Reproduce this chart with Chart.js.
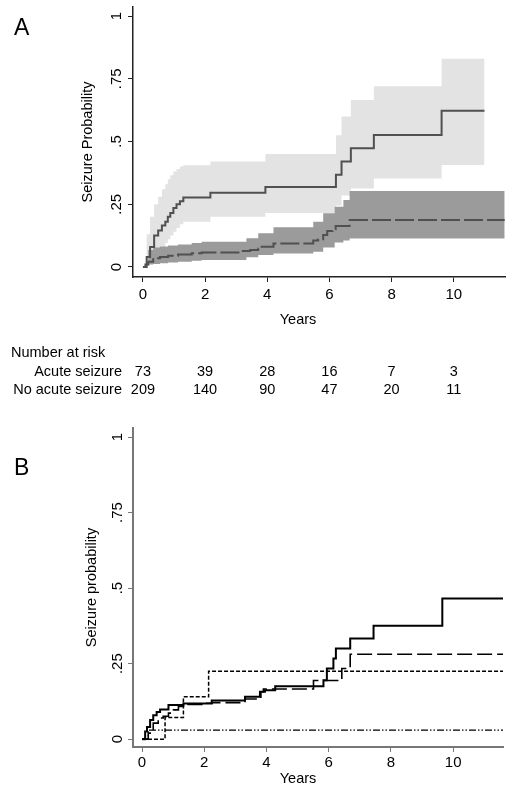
<!DOCTYPE html>
<html>
<head>
<meta charset="utf-8">
<script src="https://cdn.jsdelivr.net/npm/chart.js@4.4.1/dist/chart.umd.min.js"></script>
<style>
  html, body { margin:0; padding:0; background:#fff; }
  body { width:512px; height:792px; position:relative; overflow:hidden; font-family:"Liberation Sans", Arial, sans-serif; color:#000; }
  canvas { position:absolute; left:0; }
  .t { position:absolute; white-space:nowrap; font-size:14.5px; line-height:16px; }
  .panel { position:absolute; font-size:23px; line-height:26px; }
</style>
</head>
<body>
<canvas id="cA" width="512" height="340" style="top:0px"></canvas>
<canvas id="cB" width="512" height="392" style="top:400px"></canvas>
<div class="panel" style="left:14px; top:14px;">A</div>
<div class="panel" style="left:14px; top:454px;">B</div>
<div class="t" style="left:11px; top:344px;">Number at risk</div>
<div class="t" id="rowLab1" style="right:390px; top:363px;">Acute seizure</div>
<div class="t" id="rowLab2" style="right:390px; top:381px;">No acute seizure</div>
<div id="riskNums"></div>
<script>
// ---------- shared axis data ----------
const xTickVals = [0, 2, 4, 6, 8, 10];
const yTickVals = [0, 0.25, 0.5, 0.75, 1];
const yTickLabels = ['0', '.25', '.5', '.75', '1'];

// ---------- Panel A: Kaplan-Meier with confidence bands ----------
const acuteT  = [0, 0.12, 0.23, 0.36, 0.49, 0.61, 0.72, 0.8, 0.88, 0.98, 1.08, 1.19, 1.3, 2.17, 3.94, 6.21, 6.39, 6.69, 7.43, 9.61, 10.99];
const acuteS  = [0, 0.04, 0.08, 0.125, 0.145, 0.165, 0.18, 0.2, 0.215, 0.235, 0.25, 0.262, 0.277, 0.296, 0.319, 0.367, 0.42, 0.473, 0.526, 0.623, 0.623];
const acuteHi = [0, 0.13, 0.2, 0.25, 0.28, 0.31, 0.33, 0.35, 0.365, 0.38, 0.39, 0.40, 0.405, 0.42, 0.45, 0.525, 0.6, 0.665, 0.72, 0.83, 0.83];
const acuteLo = [0, 0.005, 0.02, 0.05, 0.06, 0.08, 0.095, 0.11, 0.125, 0.14, 0.155, 0.17, 0.18, 0.2, 0.215, 0.245, 0.285, 0.313, 0.353, 0.406, 0.406];

const noAcuteT  = [0, 0.08, 0.17, 0.33, 0.55, 0.81, 1.13, 1.57, 1.89, 3.12, 3.45, 3.71, 3.82, 4.2, 5.48, 5.64, 5.8, 5.93, 6.1, 6.2, 6.65, 11.64];
const noAcuteS  = [0, 0.01, 0.021, 0.035, 0.04, 0.045, 0.05, 0.055, 0.058, 0.064, 0.068, 0.074, 0.081, 0.094, 0.105, 0.11, 0.127, 0.143, 0.15, 0.163, 0.187, 0.187];
const noAcuteBandT = [0, 0.17, 0.33, 0.55, 0.81, 1.13, 1.57, 1.89, 3.33, 3.71, 4.2, 5.48, 5.8, 6.17, 6.45, 6.65, 11.64];
const noAcuteHi = [0, 0.068, 0.078, 0.082, 0.086, 0.09, 0.095, 0.1, 0.114, 0.134, 0.158, 0.18, 0.214, 0.24, 0.267, 0.303, 0.303];
const noAcuteLo = [0, 0.01, 0.012, 0.015, 0.018, 0.021, 0.025, 0.028, 0.039, 0.048, 0.054, 0.061, 0.078, 0.097, 0.105, 0.113, 0.113];

// Number at risk
const riskTimes = [0, 2, 4, 6, 8, 10];
const riskAcute = [73, 39, 28, 16, 7, 3];
const riskNoAcute = [209, 140, 90, 47, 20, 11];

// ---------- Panel B: four groups ----------
const bSolidT = [0, 0.1, 0.16, 0.26, 0.36, 0.47, 0.58, 0.85, 1.33, 2.24, 3.31, 3.79, 3.95, 4.28, 5.83, 5.94, 6.15, 6.23, 6.69, 7.44, 9.65, 11.6];
const bSolidS = [0, 0.025, 0.04, 0.063, 0.079, 0.09, 0.098, 0.113, 0.118, 0.128, 0.14, 0.157, 0.162, 0.175, 0.195, 0.234, 0.267, 0.30, 0.333, 0.375, 0.466, 0.466];
const bLongT  = [0, 0.2, 0.36, 0.52, 0.68, 0.85, 1.01, 1.17, 1.33, 1.92, 2.24, 3.31, 3.82, 3.9, 5.51, 6.42, 6.69, 11.6];
const bLongS  = [0, 0.02, 0.053, 0.07, 0.076, 0.086, 0.097, 0.108, 0.115, 0.119, 0.121, 0.133, 0.157, 0.166, 0.194, 0.234, 0.281, 0.281];
const bShortT = [0, 0.74, 1.33, 2.14, 11.6];
const bShortS = [0, 0.072, 0.14, 0.225, 0.225];
const bDotT   = [0, 0.2, 11.6];
const bDotS   = [0, 0.03, 0.03];

function pts(t, v) { return t.map((x, i) => ({ x: x, y: v[i] })); }

const FONT = '"Liberation Sans", Arial, sans-serif';

const textPlugin = {
  id: 'stataText',
  afterDraw(chart, args, o) {
    const ctx = chart.ctx;
    const ys = chart.scales.y;
    ctx.save();
    ctx.fillStyle = '#000';
    ctx.font = '15px ' + FONT;
    ctx.textAlign = 'center';
    ctx.textBaseline = 'middle';
    yTickVals.forEach((v, i) => {
      const y = ys.getPixelForValue(v);
      ctx.save();
      ctx.translate(o.yTickX, y);
      ctx.rotate(-Math.PI / 2);
      ctx.fillText(yTickLabels[i], 0, 1);
      ctx.restore();
    });
    ctx.font = '14.5px ' + FONT;
    // y title
    ctx.save();
    ctx.translate(o.yTitleX, (chart.chartArea.top + chart.chartArea.bottom) / 2);
    ctx.rotate(-Math.PI / 2);
    ctx.fillText(o.yTitle, 0, 0);
    ctx.restore();
    // x title
    ctx.fillText(o.xTitle, o.xTitleX, o.xTitleY);
    ctx.restore();
  }
};

function makeOptions(p) {
  return {
    responsive: false,
    animation: false,
    devicePixelRatio: 1,
    layout: { padding: { left: 0, right: p.padRight, top: p.padTop, bottom: 0 } },
    plugins: {
      legend: { display: false },
      tooltip: { enabled: false },
      stataText: p.text
    },
    elements: { point: { radius: 0, hoverRadius: 0 } },
    scales: {
      x: {
        type: 'linear',
        min: p.xMin, max: p.xMax,
        afterBuildTicks: s => { s.ticks = xTickVals.map(v => ({ value: v })); },
        afterFit: s => { s.height = p.xHeight; },
        ticks: { color: '#000', font: { family: FONT, size: 15 }, padding: p.xTickPad, maxRotation: 0, autoSkip: false },
        grid: { display: true, drawOnChartArea: false, drawTicks: true, tickLength: 5, color: p.axisColor, lineWidth: 1 },
        border: { display: true, color: p.axisColor, width: p.axisWidth }
      },
      y: {
        type: 'linear',
        min: p.yMin, max: p.yMax,
        afterBuildTicks: s => { s.ticks = yTickVals.map(v => ({ value: v })); },
        afterFit: s => { s.width = 133; },
        ticks: { display: false },
        grid: { display: true, drawOnChartArea: false, drawTicks: true, tickLength: 5, color: p.axisColor, lineWidth: 1 },
        border: { display: true, color: p.axisColor, width: p.axisWidth }
      }
    }
  };
}

const band = (data, color, fill, order) => ({
  data: data, stepped: 'before', borderWidth: 0, borderColor: 'rgba(0,0,0,0)',
  backgroundColor: color, fill: fill, pointRadius: 0, order: order
});

const chartA = new Chart(document.getElementById('cA'), {
  type: 'line',
  data: {
    datasets: [
      band(pts(acuteT, acuteHi), '#e3e3e3', '+1', 3),
      band(pts(acuteT, acuteLo), '#e3e3e3', false, 3),
      band(pts(noAcuteBandT, noAcuteHi), '#9b9b9b', '+1', 2),
      band(pts(noAcuteBandT, noAcuteLo), '#9b9b9b', false, 2),
      { label: 'Acute seizure', data: pts(acuteT, acuteS), stepped: 'before', borderColor: '#505050', borderWidth: 2, fill: false, pointRadius: 0, order: 1 },
      { label: 'No acute seizure', data: pts(noAcuteT, noAcuteS), stepped: 'before', borderColor: '#505050', borderWidth: 2, borderDash: [19, 4], fill: false, pointRadius: 0, order: 1 }
    ]
  },
  options: makeOptions({
    padRight: 7, padTop: 7, xHeight: 63, xMin: -0.32, xMax: 11.65, yMin: -0.04, yMax: 1.036,
    xTickPad: 4, axisColor: '#222', axisWidth: 1.5,
    text: { yTickX: 116, yTitle: 'Seizure Probability', yTitleX: 88, xTitle: 'Years', xTitleX: 298, xTitleY: 320 }
  }),
  plugins: [textPlugin]
});

const chartB = new Chart(document.getElementById('cB'), {
  type: 'line',
  data: {
    datasets: [
      { label: 'Group 1', data: pts(bSolidT, bSolidS), stepped: 'before', borderColor: '#000', borderWidth: 2, fill: false, pointRadius: 0 },
      { label: 'Group 2', data: pts(bLongT, bLongS), stepped: 'before', borderColor: '#000', borderWidth: 1.6, borderDash: [15, 5], fill: false, pointRadius: 0 },
      { label: 'Group 3', data: pts(bShortT, bShortS), stepped: 'before', borderColor: '#000', borderWidth: 1.5, borderDash: [4, 2], fill: false, pointRadius: 0 },
      { label: 'Group 4', data: pts(bDotT, bDotS), stepped: 'before', borderColor: '#000', borderWidth: 1.3, borderDash: [7, 2, 1.5, 2, 1.5, 2], fill: false, pointRadius: 0 }
    ]
  },
  options: makeOptions({
    padRight: 9, padTop: 28, xHeight: 45, xMin: -0.29, xMax: 11.6, yMin: -0.026, yMax: 1.03,
    xTickPad: 2, axisColor: '#777', axisWidth: 2,
    text: { yTickX: 117, yTitle: 'Seizure probability', yTitleX: 92, xTitle: 'Years', xTitleX: 298, xTitleY: 379 }
  }),
  plugins: [textPlugin]
});

// Number-at-risk table positioned via the panel A x scale
const holder = document.getElementById('riskNums');
function addRow(vals, top) {
  vals.forEach((v, i) => {
    const d = document.createElement('div');
    d.className = 't';
    d.textContent = String(v);
    const x = chartA.scales.x.getPixelForValue(riskTimes[i]);
    d.style.left = x + 'px';
    d.style.top = top + 'px';
    d.style.transform = 'translateX(-50%)';
    holder.appendChild(d);
  });
}
addRow(riskAcute, 363);
addRow(riskNoAcute, 381);
</script>
</body>
</html>
